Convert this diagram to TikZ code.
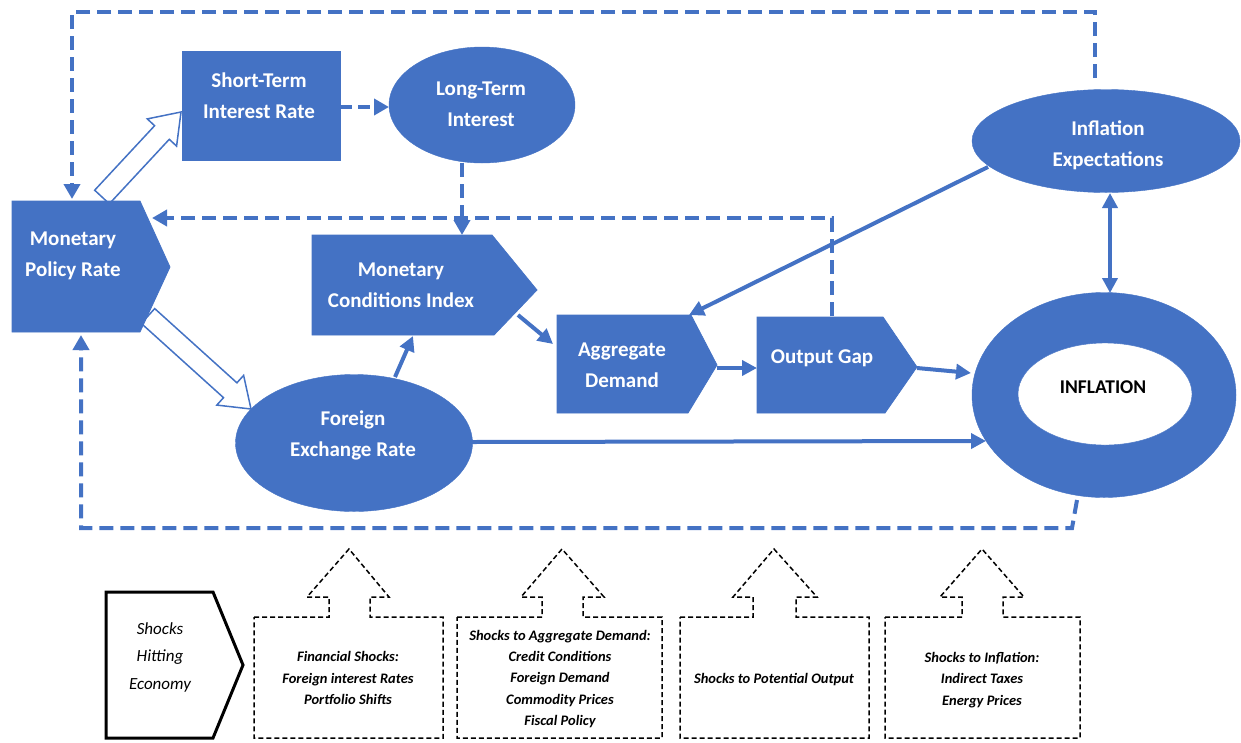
\documentclass[tikz,border=0pt]{standalone}
\usepackage{fontspec}
\setmainfont{Carlito}
\usetikzlibrary{shapes.geometric,arrows.meta,calc}
\definecolor{ob}{HTML}{4472C4}
\newcommand{\hollowarr}[2]{%
  \coordinate (hh) at ($(#2)!28pt!(#1)$);
  \draw[harrow] ($(#1)!10pt!90:(#2)$) -- ($(hh)!10pt!90:(#2)$) -- ($(hh)!20pt!90:(#2)$) -- (#2)
    -- ($(hh)!20pt!-90:(#2)$) -- ($(hh)!10pt!-90:(#2)$) -- ($(#1)!10pt!-90:(#2)$) -- cycle;}
\newcommand{\shockframe}[7]{%
  \draw[sbox] (#1,617) -- (#3,617) -- (#3,597) -- (#5,597) -- (#7,549) -- (#6,597) -- (#4,597)
    -- (#4,617) -- (#2,617) -- (#2,738) -- (#1,738) -- cycle;}
\begin{document}
\begin{tikzpicture}[x=1pt,y=-1pt,
  mtext/.style={text=white,font=\fontsize{21}{31}\selectfont\bfseries,align=center,inner sep=0pt},
  blob/.style={ellipse,fill=ob,draw=ob,inner sep=0pt,outer sep=0pt},
  shapefill/.style={fill=ob,draw=ob,line width=0.8pt},
  dloop/.style={draw=ob,line width=4pt,dash pattern=on 14pt off 7pt,line join=miter},
  dtip/.style={-{Triangle[length=15pt,width=16pt]}},
  sarrow/.style={draw=ob,line width=4pt,-{Triangle[length=15pt,width=15pt]}},
  harrow/.style={draw=ob,fill=white,line width=1.5pt,line join=miter},
  sbox/.style={draw=black,line width=1.5pt,dash pattern=on 5pt off 3pt},
  btext/.style={font=\fontsize{14.5}{21.3}\selectfont\bfseries\itshape,align=center,inner sep=0pt},
  stext/.style={font=\fontsize{17}{27.5}\selectfont\itshape,align=center,inner sep=0pt}]
\useasboundingbox (0,0) rectangle (1241,742);

% connector end points
\coordinate (h1a) at (102,197);
\coordinate (h1b) at (181,112);
\coordinate (h2a) at (148,316);
\coordinate (h2b) at (251,409);

% hollow arrows (behind shapes)
\hollowarr{h1a}{h1b}
\hollowarr{h2a}{h2b}

% Monetary Policy Rate
\path[shapefill] (12,201) -- (140,201) -- (170,267) -- (140,332) -- (12,332) -- cycle;
\node[mtext] (mpr) at (73,256) {Monetary\\Policy Rate};

% Short-term interest rate
\node[shapefill,rectangle,minimum width=158pt,minimum height=109pt,inner sep=0pt,outer sep=0pt] (str) at (261,105.5) {};
\node[mtext] (strt) at (259,96) {Short-Term\\Interest Rate};

% Long-term interest
\node[blob,minimum width=186pt,minimum height=116pt] (lt) at (482,105) {};
\node[mtext] (ltt) at (481,104) {Long-Term\\Interest};

% Monetary conditions index
\path[shapefill] (312,235) -- (492,235) -- (537,290) -- (494,335) -- (312,335) -- cycle;
\node[mtext] (mci) at (401,285) {Monetary\\Conditions Index};

% Aggregate demand
\path[shapefill] (557,315) -- (691,315) -- (717,365) -- (688,413) -- (557,413) -- cycle;
\node[mtext] (ad) at (622,365) {Aggregate\\Demand};

% Output gap
\path[shapefill] (757,317) -- (883,317) -- (917,367) -- (885,413) -- (757,413) -- cycle;
\node[mtext] (og) at (822,358) {Output Gap};

% Foreign exchange rate
\node[blob,minimum width=237pt,minimum height=137pt] (fx) at (354,443) {};
\node[mtext] (fxt) at (353,435.5) {Foreign\\Exchange Rate};

% Inflation expectations
\node[blob,minimum width=268pt,minimum height=103pt] (ie) at (1106,141) {};
\node[mtext] (iet) at (1108,145) {Inflation\\Expectations};

% Inflation ring
\node[blob,minimum width=264pt,minimum height=205pt] (inf) at (1104,395) {};
\node[ellipse,fill=white,draw=ob,inner sep=0pt,minimum width=174pt,minimum height=102pt] (infin) at (1105,394) {};
\node[font=\fontsize{19.5}{24}\selectfont\bfseries,inner sep=0pt] (inft) at (1103,387) {INFLATION};

% dashed loop coordinates
\coordinate (t1) at (1095,78);
\coordinate (t2) at (1095,12);
\coordinate (t3) at (72,12);
\coordinate (t4) at (72,199);
\coordinate (m1) at (832,316);
\coordinate (m2) at (832,218);
\coordinate (m3) at (152,218);
\coordinate (b1) at (1077,500);
\coordinate (b2) at (1072,528);
\coordinate (b3) at (81,528);
\coordinate (b4) at (81,335);
\coordinate (s1) at (340,107);
\coordinate (s2) at (389,107);
\coordinate (l1) at (462,163);
\coordinate (l2) at (462,235);

\draw[dloop,dtip] (t1) -- (t2) -- (t3) -- (t4);
\draw[dloop,dtip] (m1) -- (m2) -- (m3);
\draw[dloop,dtip] (b1) -- (b2) -- (b3) -- (b4);
\draw[dloop,dtip,dash pattern=on 12pt off 6pt] (s1) -- (s2);
\draw[dloop,dtip] (l1) -- (l2);

% solid connectors
\coordinate (e1) at (988,167);
\coordinate (e2) at (689,315);
\coordinate (e3) at (1110,193);
\coordinate (e4) at (1110,293);
\coordinate (c1) at (518,315);
\coordinate (c2) at (553,344);
\coordinate (a1) at (717,368);
\coordinate (a2) at (757,368);
\coordinate (o1) at (917,368);
\coordinate (o2) at (971,373);
\coordinate (f1) at (472,442);
\coordinate (f2) at (986,441);
\coordinate (f3) at (395,377);
\coordinate (f4) at (413,336);

\draw[sarrow] (e1) -- (e2);
\draw[sarrow,{Triangle[length=15pt,width=15pt]}-{Triangle[length=15pt,width=15pt]}] (e3) -- (e4);
\draw[sarrow] (c1) -- (c2);
\draw[sarrow] (a1) -- (a2);
\draw[sarrow] (o1) -- (o2);
\draw[sarrow] (f1) -- (f2);
\draw[sarrow] (f3) -- (f4);

% shocks row
\draw[black,line width=3pt,line join=miter] (106,592) -- (213,592) -- (243,665) -- (213,738) -- (106,738) -- cycle;
\node[stext] (shk) at (160,657) {Shocks\\Hitting\\Economy};

\shockframe{254}{443}{329}{370}{307}{389}{349}
\shockframe{457}{662}{542}{583}{521}{604}{562}
\shockframe{680}{869}{753}{796}{733}{817}{774}
\shockframe{885}{1080}{962}{1003}{940}{1024}{982}

\node[btext] (sb1) at (348,678) {Financial Shocks:\\Foreign interest Rates\\Portfolio Shifts};
\node[btext] (sb2) at (560,679) {Shocks to Aggregate Demand:\\Credit Conditions\\Foreign Demand\\Commodity Prices\\Fiscal Policy};
\node[btext] (sb3) at (774,680) {Shocks to Potential Output};
\node[btext] (sb4) at (982,680) {Shocks to Inflation:\\Indirect Taxes\\Energy Prices};
\end{tikzpicture}
\end{document}
